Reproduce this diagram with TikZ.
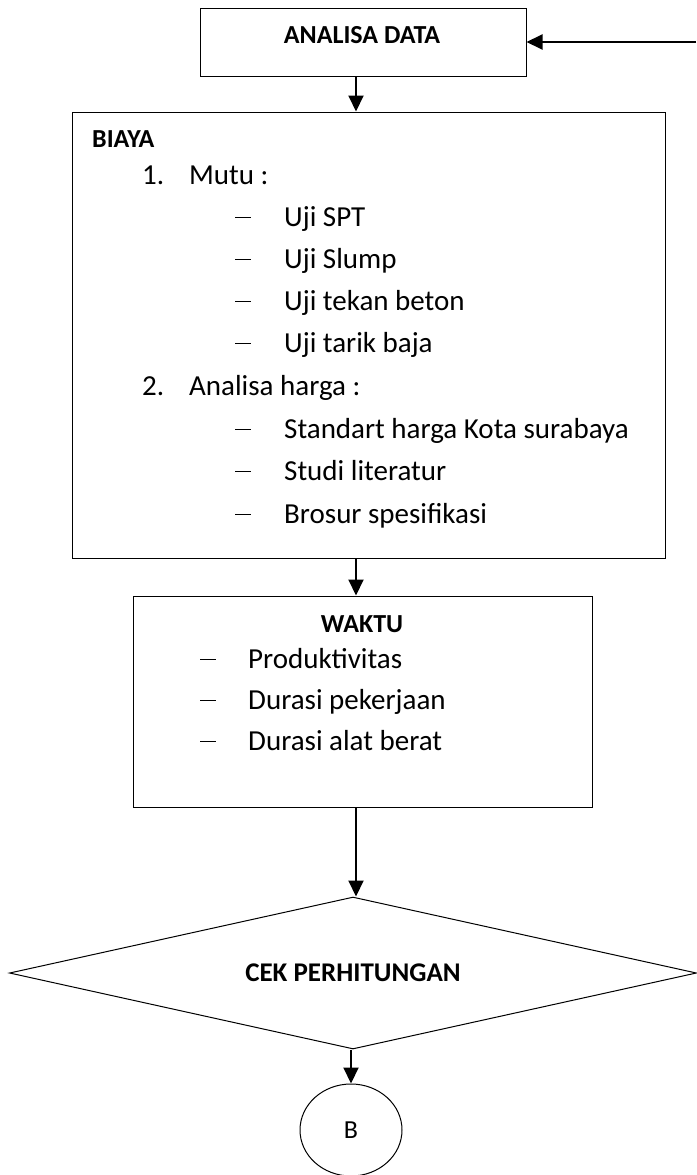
\documentclass[tikz,border=0pt]{standalone}
\usepackage{fontspec}
\setmainfont{Carlito}
\usepackage{tikz}
\usetikzlibrary{shapes.geometric, arrows.meta, positioning}

\newcommand{\dashitem}[2][49pt]{\makebox[#1][l]{\rule[8pt]{16pt}{1.3pt}}#2}
\newcommand{\numitem}[2]{\makebox[47pt][l]{#1}#2}

\begin{document}
\begin{tikzpicture} [
        x = 1pt, y = -1pt,
        box/.style = {rectangle, draw, line width=1pt, inner sep=0pt},
        title/.style = {font=\fontsize{26}{31}\selectfont\bfseries, inner sep=0pt},
        item/.style = {font=\fontsize{29}{35}\selectfont, inner sep=0pt, anchor=base west},
        edge/.style = {draw, line width=2pt, -{Triangle[length=16pt, width=15pt]}}
    ]

    \useasboundingbox (0,0) rectangle (696,1175);

    % boxes
    \node[box, minimum width=326pt, minimum height=68pt] (analisa) at (363,42) {};
    \node[box, minimum width=593pt, minimum height=446pt] (biaya)   at (368.5,335) {};
    \node[box, minimum width=459pt, minimum height=211pt] (waktu)   at (362.5,701.5) {};
    \node[diamond, draw, line width=1pt, aspect=4.52, inner sep=0pt,
          minimum width=687pt, minimum height=152pt] (cek) at (353,973)
          {\fontsize{27}{32}\selectfont\bfseries CEK PERHITUNGAN};
    \node[ellipse, draw, line width=1pt, inner sep=0pt,
          minimum width=102pt, minimum height=92pt, font=\fontsize{26}{31}\selectfont] (b) at (351,1130) {B};

    % texts
    \node[title, anchor=base] (analisaText) at (362,43) {ANALISA DATA};
    \node[title, anchor=base west] (biayaText) at (92,147) {BIAYA};
    \node[item] (mutu)     at (142,184) {\numitem{1.}{Mutu :}};
    \node[item] (spt)      at (235,226) {\dashitem{Uji SPT}};
    \node[item] (slump)    at (235,268) {\dashitem{Uji Slump}};
    \node[item] (tekan)    at (235,310) {\dashitem{Uji tekan beton}};
    \node[item] (tarik)    at (235,352) {\dashitem{Uji tarik baja}};
    \node[item] (harga)    at (142,395) {\numitem{2.}{Analisa harga :}};
    \node[item] (standart) at (235,438) {\dashitem{Standart harga Kota surabaya}};
    \node[item] (studi)    at (235,480) {\dashitem{Studi literatur}};
    \node[item] (brosur)   at (235,523) {\dashitem{Brosur spesifikasi}};
    \node[title, anchor=base] (waktuText) at (362,632) {WAKTU};
    \node[item] (produktif) at (200,668) {\dashitem[48pt]{Produktivitas}};
    \node[item] (durasiKerja) at (200,709) {\dashitem[48pt]{Durasi pekerjaan}};
    \node[item] (durasiAlat)  at (200,750) {\dashitem[48pt]{Durasi alat berat}};

    % connectors
    \coordinate (axis)  at (356,0);
    \coordinate (entry) at (696,42);
    \draw[edge] (entry) -- (analisa.east);
    \draw[edge] (analisa.south -| axis) -- (biaya.north -| axis);
    \draw[edge] (biaya.south -| axis) -- (waktu.north -| axis);
    \draw[edge] (waktu.south -| axis) -- (cek.north -| axis);
    \draw[edge] (cek.south -| b) -- (b.north);

\end{tikzpicture}
\end{document}
